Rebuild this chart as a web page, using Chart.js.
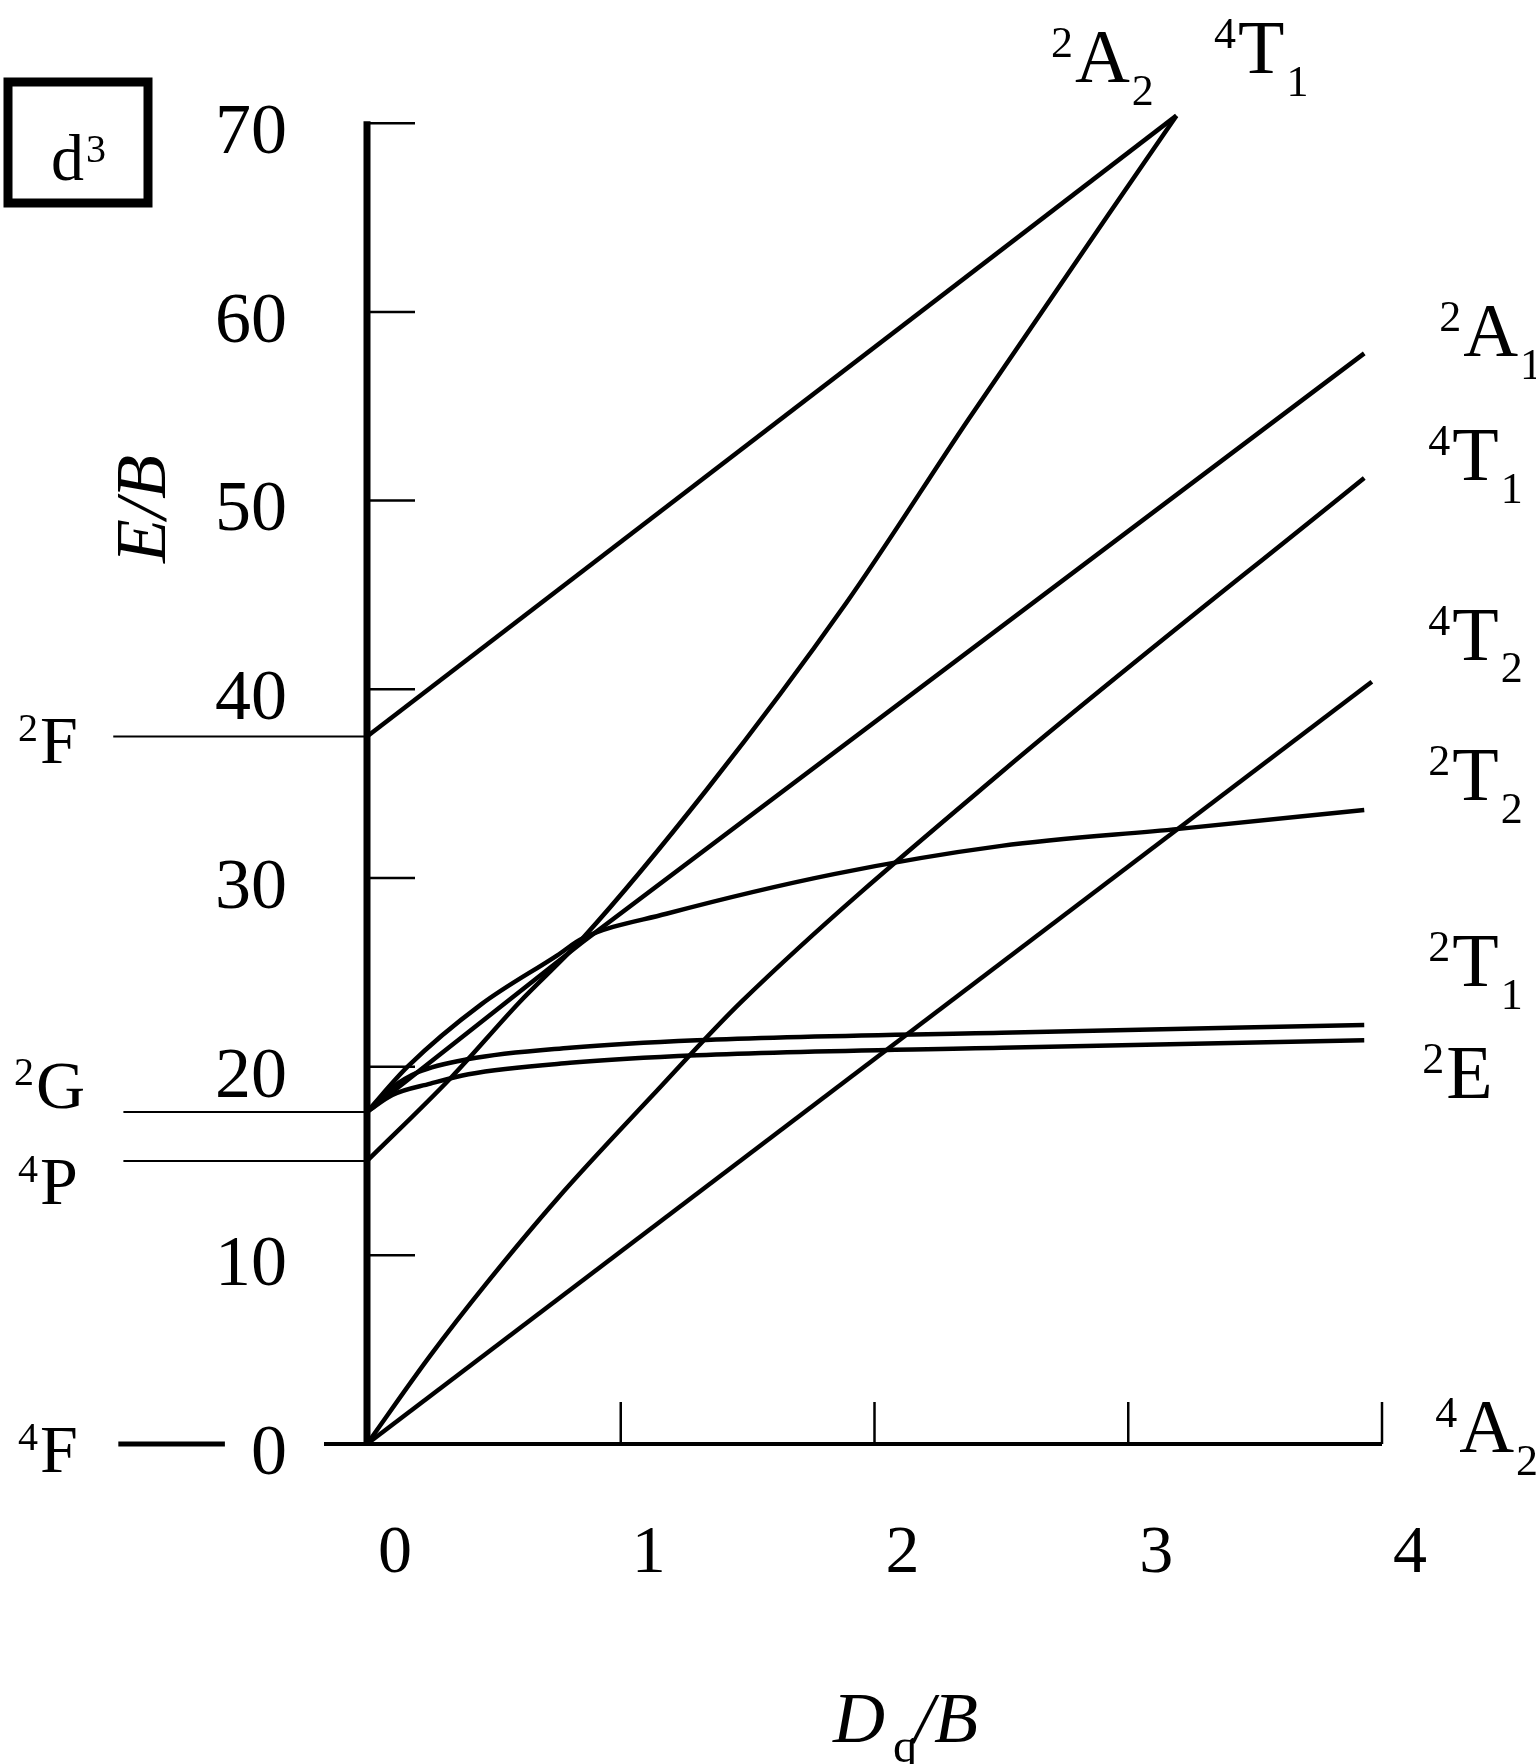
<!DOCTYPE html>
<html>
<head>
<meta charset="utf-8">
<title>d3 Tanabe-Sugano</title>
<script src="https://cdn.jsdelivr.net/npm/chart.js@4.4.1/dist/chart.umd.min.js"></script>
<style>
  html, body { margin: 0; padding: 0; background: #fff; }
  #wrap { width: 1536px; height: 1764px; }
</style>
</head>
<body>
<div id="wrap"><canvas id="ts" width="1536" height="1764"></canvas></div>
<script>
const xA2 = [0, 3.19];
const yA2 = [37.5, 70.4];

const xT1P = [0, 0.33, 0.6, 0.85, 1.34, 1.89, 2.37, 3.19];
const yT1P = [15.0, 19.4, 23.4, 26.8, 34.7, 44.6, 54.3, 70.4];

const xA1 = [0, 0.85, 3.93];
const yA1 = [17.6, 26.6, 57.8];

const xT1F = [0, 0.25, 0.47, 0.75, 1.12, 1.48, 2.5, 3.93];
const yT1F = [0, 4.7, 8.5, 13.0, 18.4, 23.5, 35.6, 51.2];

const xT2 = [0, 3.96];
const yT2 = [0, 40.4];

const x2T2 = [0, 0.16, 0.45, 0.75, 0.85, 1.18, 1.84, 2.5, 3.2, 3.93];
const y2T2 = [17.6, 20.0, 23.3, 25.9, 26.8, 28.1, 30.2, 31.7, 32.6, 33.6];

const x2T1 = [0, 0.1, 0.2, 0.4, 0.8, 1.3, 2.5, 3.93];
const y2T1 = [17.6, 18.9, 19.7, 20.4, 21.0, 21.4, 21.8, 22.2];

const x2E = [0, 0.1, 0.25, 0.4, 0.8, 1.3, 2.5, 3.93];
const y2E = [17.6, 18.5, 19.1, 19.6, 20.2, 20.6, 21.0, 21.4];

// términos del ion libre (izquierda)
const freeIonTerms = [['2', 'F'], ['2', 'G'], ['4', 'P'], ['4', 'F']];
const freeIonE = [37.5, 17.6, 15.0, 0];

// términos en el campo (derecha / arriba)
const fieldTerms = [
  ['2', 'A', '2'], ['4', 'T', '1'], ['2', 'A', '1'], ['4', 'T', '1'], ['4', 'T', '2'],
  ['2', 'T', '2'], ['2', 'T', '1'], ['2', 'E', ''], ['4', 'A', '2']
];

const xMin = 0, xMax = 4, xStep = 1;
const yMin = 0, yMax = 70, yStep = 10;

const SERIF = "'Liberation Serif', 'DejaVu Serif', serif";

function pts(xs, ys) {
  return xs.map((v, i) => ({ x: v, y: ys[i] }));
}

function serie(xs, ys, curved) {
  return {
    data: pts(xs, ys),
    showLine: true,
    borderColor: '#000',
    borderWidth: 4.5,
    pointRadius: 0,
    cubicInterpolationMode: curved ? 'monotone' : 'default',
    clip: false
  };
}

// escribe un término tipo ²A₁
function term(ctx, left, base, sup, main, sub, big, small) {
  ctx.textAlign = 'left';
  ctx.textBaseline = 'alphabetic';
  ctx.font = small + 'px ' + SERIF;
  const sw = ctx.measureText(sup).width;
  ctx.fillText(sup, left - sw - 2, base - big * 0.33);
  ctx.font = big + 'px ' + SERIF;
  ctx.fillText(main, left, base);
  const mw = ctx.measureText(main).width;
  if (sub) {
    ctx.font = small + 'px ' + SERIF;
    ctx.fillText(sub, left + mw + 2, base + big * 0.3);
  }
}

const overlay = {
  id: 'overlay',
  afterDatasetsDraw(chart) {
    const ctx = chart.ctx;
    const xs = chart.scales.x, ys = chart.scales.y;
    const X = v => xs.getPixelForValue(v);
    const Y = v => ys.getPixelForValue(v);
    const seg = (a, b, c, d) => { ctx.beginPath(); ctx.moveTo(a, b); ctx.lineTo(c, d); ctx.stroke(); };

    ctx.save();
    ctx.strokeStyle = '#000';
    ctx.fillStyle = '#000';

    // eje y con marcas hacia dentro
    ctx.lineWidth = 7;
    seg(X(0), Y(yMax) - 2, X(0), Y(0) + 2);
    ctx.lineWidth = 2.5;
    ys.ticks.forEach(t => seg(X(0), Y(t.value), X(0) + 48, Y(t.value)));

    // eje x con marcas hacia arriba
    ctx.lineWidth = 4;
    seg(X(0) - 43, Y(0), X(xMax), Y(0));
    ctx.lineWidth = 2.5;
    xs.ticks.forEach(t => { if (t.value > 0) seg(X(t.value), Y(0), X(t.value), Y(0) - 42); });

    // niveles del ion libre
    ctx.lineWidth = 2;
    seg(X(-1.0), Y(freeIonE[0]), X(0), Y(freeIonE[0]));
    seg(X(-0.96), Y(freeIonE[1]), X(0), Y(freeIonE[1]));
    seg(X(-0.96), Y(freeIonE[2]), X(0), Y(freeIonE[2]));
    ctx.lineWidth = 5;
    seg(X(-0.98), Y(freeIonE[3]), X(-0.56), Y(freeIonE[3]));

    const leftPos = [[40, Y(freeIonE[0]) + 27], [36, Y(freeIonE[1]) - 4], [40, Y(freeIonE[2]) + 43], [40, Y(freeIonE[3]) + 28]];
    freeIonTerms.forEach((t, i) => term(ctx, leftPos[i][0], leftPos[i][1], t[0], t[1], '', 68, 40));

    // etiquetas de los estados
    const rightPos = [
      [2.79, 72.18], [3.433, 72.66], [4.32, 57.64], [4.277, 51.08], [4.277, 41.57],
      [4.277, 34.11], [4.277, 24.27], [4.253, 18.35], [4.304, -0.42]
    ];
    fieldTerms.forEach((t, i) => term(ctx, X(rightPos[i][0]), Y(rightPos[i][1]), t[0], t[1], t[2], 76, 44));

    // recuadro d3
    ctx.lineWidth = 9;
    ctx.strokeRect(8, 82, 140, 121);
    term(ctx, 51, 180, '', 'd', '', 66, 40);
    ctx.font = '40px ' + SERIF;
    ctx.fillText('3', 86, 162);

    // títulos de ejes
    ctx.font = 'italic 72px ' + SERIF;
    ctx.textBaseline = 'alphabetic';
    ctx.fillText('D', 833, 1742);
    ctx.font = '48px ' + SERIF;
    ctx.fillText('q', 893, 1762);
    ctx.font = 'italic 72px ' + SERIF;
    ctx.fillText('/B', 914, 1742);

    ctx.translate(146, 509);
    ctx.rotate(-Math.PI / 2);
    ctx.textAlign = 'center';
    ctx.textBaseline = 'middle';
    ctx.fillText('E/B', 0, 0);
    ctx.restore();
  }
};

new Chart(document.getElementById('ts').getContext('2d'), {
  type: 'scatter',
  data: {
    datasets: [
      serie(xA2, yA2, false),
      serie(xT1P, yT1P, true),
      serie(xA1, yA1, false),
      serie(xT1F, yT1F, true),
      serie(xT2, yT2, false),
      serie(x2T2, y2T2, true),
      serie(x2T1, y2T1, true),
      serie(x2E, y2E, true)
    ]
  },
  options: {
    responsive: false,
    animation: false,
    events: [],
    layout: { padding: { left: 0, top: 120, right: 154, bottom: 0 } },
    plugins: { legend: { display: false }, tooltip: { enabled: false } },
    scales: {
      x: {
        type: 'linear',
        min: xMin, max: xMax,
        grid: { display: false, drawTicks: false },
        border: { display: false },
        ticks: { stepSize: xStep, padding: 69, labelOffset: 28, color: '#000', font: { family: SERIF, size: 68 } },
        afterFit: s => { s.height = 320; }
      },
      y: {
        type: 'linear',
        min: yMin, max: yMax,
        grid: { display: false, drawTicks: false },
        border: { display: false },
        ticks: { stepSize: yStep, padding: 80, labelOffset: 11, color: '#000', font: { family: SERIF, size: 72 } },
        afterFit: s => { s.width = 367; }
      }
    }
  },
  plugins: [overlay]
});
</script>
</body>
</html>
